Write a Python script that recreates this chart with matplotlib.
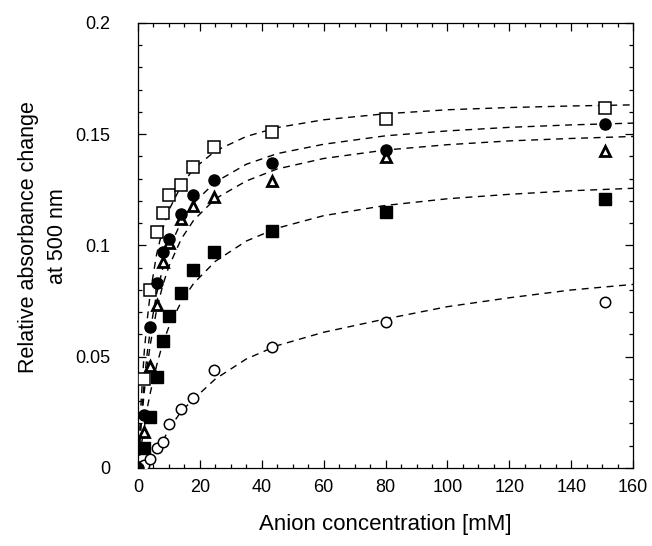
import matplotlib
matplotlib.use("Agg")
import matplotlib.pyplot as plt
from matplotlib.ticker import MultipleLocator

plt.rcParams['font.family'] = ['Liberation Sans', 'DejaVu Sans']

# measured data (anion concentration in mM)
conc = [0, 2, 4, 6, 8.2, 10, 13.8, 17.7, 24.7, 43.4, 80, 151]
open_sq = [None, 0.040, 0.080, 0.106, 0.1145, 0.1227, 0.127, 0.1351, 0.1441, 0.151, 0.157, 0.162]
filled_circ = [0.0, 0.024, 0.0635, 0.083, 0.0972, 0.103, 0.114, 0.1227, 0.1294, 0.1372, 0.1429, 0.1545]
open_tri = [0.0, 0.0163, 0.0458, 0.0733, 0.0927, 0.101, 0.1118, 0.1178, 0.1217, 0.129, 0.1396, 0.1425]
filled_sq = [0.0, 0.0088, 0.023, 0.041, 0.057, 0.0683, 0.0785, 0.089, 0.0969, 0.1067, 0.1149, 0.121]
open_circ = [0.0, 0.0013, 0.0039, 0.0088, 0.0118, 0.0198, 0.0265, 0.0313, 0.044, 0.0545, 0.0658, 0.0745]

# fitted curves
fit_x = [0, 1, 2, 3, 4, 6, 8, 10, 14, 18, 25, 35, 45, 60, 80, 100, 120, 140, 160]
fit_sq = [0, 0.030, 0.052, 0.067, 0.079, 0.096, 0.1075, 0.116, 0.127, 0.1345, 0.1425,
          0.149, 0.153, 0.1565, 0.1592, 0.161, 0.162, 0.1627, 0.1632]
fit_circ = [0, 0.022, 0.0386, 0.052, 0.0622, 0.0783, 0.0898, 0.0985, 0.1108, 0.1191, 0.1285,
            0.1365, 0.1413, 0.1455, 0.1493, 0.1515, 0.1531, 0.1542, 0.155]
fit_tri = [0, 0.019, 0.034, 0.046, 0.0558, 0.071, 0.0822, 0.0907, 0.103, 0.1114, 0.121,
           0.129, 0.1344, 0.1391, 0.1429, 0.1453, 0.147, 0.1481, 0.149]
fit_fsq = [0, 0.010, 0.018, 0.027, 0.034, 0.046, 0.0561, 0.0635, 0.0748, 0.083, 0.0929,
           0.102, 0.1078, 0.1134, 0.118, 0.121, 0.123, 0.1246, 0.1257]
fit_ocirc = [0, 0.0006, 0.0015, 0.0027, 0.004, 0.008, 0.012, 0.0175, 0.0255, 0.031, 0.040,
             0.049, 0.055, 0.061, 0.067, 0.0725, 0.0765, 0.080, 0.0825]

yticks = [0, 0.05, 0.1, 0.15, 0.2]
ytick_labels = ['0', '0.05', '0.1', '0.15', '0.2']

fig = plt.figure(figsize=(6.52, 5.46), dpi=100)
ax = fig.add_axes([0.2117, 0.1429, 0.7593, 0.8150])

for fy in (fit_sq, fit_circ, fit_tri, fit_fsq, fit_ocirc):
    ax.plot(fit_x, fy, color='black', lw=1.0, dashes=(5, 4), zorder=2)

def pts(vals):
    xs = [c for c, v in zip(conc, vals) if v is not None]
    ys = [v for v in vals if v is not None]
    return xs, ys

x, y = pts(open_sq)
ax.plot(x, y, 's', ms=8, mfc='white', mec='black', mew=1.1, ls='none', zorder=3)
x, y = pts(filled_sq)
ax.plot(x, y, 's', ms=8, mfc='black', mec='black', mew=1.0, ls='none', zorder=3)
x, y = pts(open_circ)
ax.plot(x, y, 'o', ms=7.5, mfc='white', mec='black', mew=1.1, ls='none', zorder=3)
x, y = pts(open_tri)
ax.plot(x, y, '^', ms=7, mfc='white', mec='black', mew=2.0, ls='none', zorder=4)
x, y = pts(filled_circ)
ax.plot(x, y, 'o', ms=8, mfc='black', mec='black', mew=1.0, ls='none', zorder=4)

ax.set_xlim(0, 160)
ax.set_ylim(0, 0.2)
ax.xaxis.set_major_locator(MultipleLocator(20))
ax.xaxis.set_minor_locator(MultipleLocator(5))
ax.yaxis.set_minor_locator(MultipleLocator(0.01))
ax.set_yticks(yticks)
ax.set_yticklabels(ytick_labels)

ax.tick_params(which='both', direction='in', top=True, right=True, width=0.9, labelsize=13)
ax.tick_params(which='major', length=6)
ax.tick_params(which='minor', length=3)
ax.tick_params(axis='y', pad=20)
ax.tick_params(axis='x', pad=8)
for s in ax.spines.values():
    s.set_linewidth(0.9)

ax.set_xlabel('Anion concentration [mM]', fontsize=16, labelpad=13)
ax.set_ylabel('Relative absorbance change\nat 500 nm', fontsize=15.5, linespacing=1.5)
ax.yaxis.set_label_coords(-0.142, 0.52)

fig.savefig('out.png', dpi=100)
